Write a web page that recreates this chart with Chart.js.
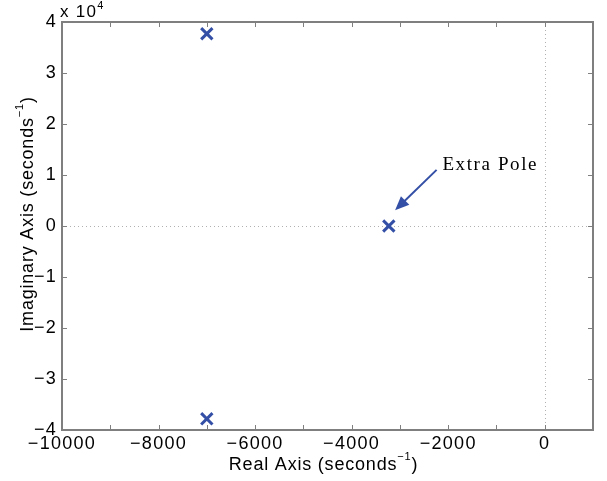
<!DOCTYPE html>
<html>
<head>
<meta charset="utf-8">
<script src="https://cdn.jsdelivr.net/npm/chart.js@4"></script>
<style>
  html, body { margin: 0; padding: 0; background: #fff; }
  #wrap { width: 607px; height: 481px; }
</style>
</head>
<body>
<div id="wrap"><canvas id="pzmap"></canvas></div>
<script>
// poles
const realPart = [-7000, -7000, -3230];
const imagPart = [37700, -37800, 0];

const xTicks = [-10000, -8000, -6000, -4000, -2000, 0];
const yTicks = [-4, -3, -2, -1, 0, 1, 2, 3, 4];

const poles = realPart.map((x, i) => ({x: x, y: imagPart[i]}));

const blue = '#3450a6';
const axisGrey = '#7f7f7f';
const sans = '"Liberation Sans", Arial, sans-serif';

function fmt(v) {
  return v < 0 ? '\u2212' + Math.abs(v) : String(v);
}

const extras = {
  id: 'extras',
  beforeDraw(chart) {
    // matlab export text is a bit wider than plain helvetica
    chart.ctx.letterSpacing = '1.3px';
  },
  beforeDatasetsDraw(chart) {
    const {ctx, chartArea: a, scales: {x, y}} = chart;
    ctx.save();
    ctx.strokeStyle = '#b0b0b0';
    ctx.lineWidth = 1;
    ctx.setLineDash([1, 3]);
    let x0 = Math.round(x.getPixelForValue(0)) + 0.5;
    let y0 = Math.round(y.getPixelForValue(0)) + 0.5;
    ctx.beginPath();
    ctx.moveTo(x0, a.top); ctx.lineTo(x0, a.bottom);
    ctx.moveTo(a.left, y0); ctx.lineTo(a.right, y0);
    ctx.stroke();
    ctx.restore();
  },
  afterDatasetsDraw(chart) {
    const {ctx, chartArea: a, scales: {x, y}} = chart;
    ctx.save();
    // box + inward ticks
    ctx.strokeStyle = axisGrey;
    ctx.lineWidth = 2;
    ctx.strokeRect(a.left, a.top, a.right - a.left, a.bottom - a.top);
    ctx.lineWidth = 1;
    ctx.beginPath();
    for (let v = -10000; v <= 1000; v += 1000) {
      let px = Math.round(x.getPixelForValue(v)) + 0.5;
      ctx.moveTo(px, a.bottom); ctx.lineTo(px, a.bottom - 5);
      ctx.moveTo(px, a.top); ctx.lineTo(px, a.top + 5);
    }
    for (let v = -40000; v <= 40000; v += 10000) {
      let py = Math.round(y.getPixelForValue(v)) + 0.5;
      ctx.moveTo(a.left, py); ctx.lineTo(a.left + 5, py);
      ctx.moveTo(a.right, py); ctx.lineTo(a.right - 5, py);
    }
    ctx.stroke();

    // exponent label
    ctx.letterSpacing = '1.3px';
    ctx.fillStyle = '#000';
    ctx.textBaseline = 'alphabetic';
    ctx.textAlign = 'left';
    ctx.font = '17px ' + sans;
    ctx.fillText('x 10', a.left - 2, a.top - 5);
    let w = ctx.measureText('x 10').width;
    ctx.font = '11px ' + sans;
    ctx.fillText('4', a.left - 2 + w, a.top - 13);

    // axis titles with superscript
    function title(cx, cy, rot, main) {
      ctx.save();
      ctx.translate(cx, cy);
      ctx.rotate(rot);
      ctx.letterSpacing = '0.8px';
      ctx.font = '18px ' + sans;
      let w1 = ctx.measureText(main).width;
      ctx.font = '11px ' + sans;
      let w2 = ctx.measureText('\u22121').width;
      ctx.font = '18px ' + sans;
      let w3 = ctx.measureText(')').width;
      let start = -(w1 + w2 + w3) / 2;
      ctx.textAlign = 'left';
      ctx.textBaseline = 'alphabetic';
      ctx.fillText(main, start, 6);
      ctx.font = '11px ' + sans;
      ctx.fillText('\u22121', start + w1, -4);
      ctx.font = '18px ' + sans;
      ctx.fillText(')', start + w1 + w2, 6);
      ctx.restore();
    }
    title(323.5, a.bottom + 34, 0, 'Real Axis (seconds');
    title(27, 214, -Math.PI / 2, 'Imaginary Axis (seconds');

    // arrow annotation
    let tx = x.getPixelForValue(-2240), ty = y.getPixelForValue(11000);
    let hx = x.getPixelForValue(-3100), hy = y.getPixelForValue(3100);
    let ang = Math.atan2(hy - ty, hx - tx);
    ctx.strokeStyle = blue;
    ctx.fillStyle = blue;
    ctx.lineWidth = 2;
    ctx.beginPath();
    ctx.moveTo(tx, ty);
    ctx.lineTo(hx - 10 * Math.cos(ang), hy - 10 * Math.sin(ang));
    ctx.stroke();
    ctx.beginPath();
    ctx.moveTo(hx, hy);
    ctx.lineTo(hx - 14 * Math.cos(ang) + 6 * Math.sin(ang), hy - 14 * Math.sin(ang) - 6 * Math.cos(ang));
    ctx.lineTo(hx - 14 * Math.cos(ang) - 6 * Math.sin(ang), hy - 14 * Math.sin(ang) + 6 * Math.cos(ang));
    ctx.closePath();
    ctx.fill();
    ctx.fillStyle = '#000';
    ctx.letterSpacing = '1.6px';
    ctx.font = '19px "Liberation Serif", "Times New Roman", serif';
    ctx.textAlign = 'left';
    ctx.fillText('Extra Pole', x.getPixelForValue(-2120), y.getPixelForValue(11000));
    ctx.restore();
  }
};

new Chart(document.getElementById('pzmap'), {
  type: 'scatter',
  data: {
    datasets: [{
      label: 'Poles',
      data: poles,
      pointStyle: 'crossRot',
      pointRadius: 8,
      pointHoverRadius: 8,
      borderColor: blue,
      backgroundColor: blue,
      borderWidth: 3
    }]
  },
  options: {
    responsive: true,
    maintainAspectRatio: false,
    animation: false,
    layout: { padding: { left: 0, top: 22, right: 14, bottom: 0 } },
    plugins: { legend: { display: false }, tooltip: { enabled: false } },
    scales: {
      x: {
        type: 'linear',
        min: -10000, max: 1000,
        afterFit(s) { s.height = 51; },
        grid: { display: false, drawTicks: false },
        border: { display: false },
        ticks: {
          stepSize: 1000,
          autoSkip: false,
          maxRotation: 0,
          padding: 3,
          color: '#000',
          font: { family: sans, size: 18 },
          callback: v => xTicks.includes(v) ? fmt(v) : ''
        }
      },
      y: {
        type: 'linear',
        min: -40000, max: 40000,
        afterFit(s) { s.width = 62; },
        grid: { display: false, drawTicks: false },
        border: { display: false },
        ticks: {
          stepSize: 10000,
          autoSkip: false,
          padding: 5,
          color: '#000',
          font: { family: sans, size: 18 },
          callback: v => yTicks.includes(v / 10000) ? fmt(v / 10000) : ''
        }
      }
    }
  },
  plugins: [extras]
});
</script>
</body>
</html>
